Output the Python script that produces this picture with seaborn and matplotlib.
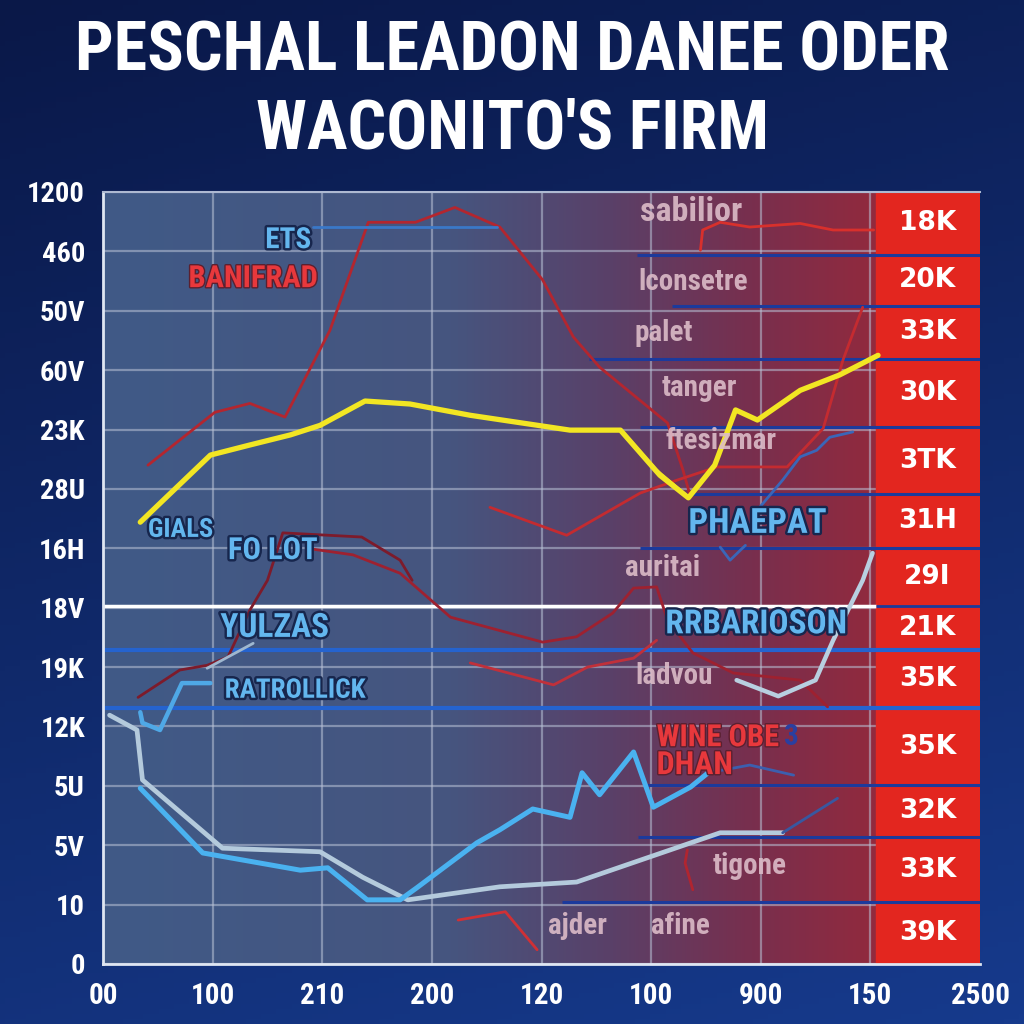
import numpy as np
import pandas as pd
import matplotlib
matplotlib.use("Agg")
import matplotlib.pyplot as plt
import matplotlib.patheffects as pe
from matplotlib.colors import LinearSegmentedColormap
import seaborn as sns

# ---------------- data ----------------
title_lines = ["PESCHAL LEADON DANEE ODER", "WACONITO'S FIRM"]
x_ticklabels = ["00", "100", "210", "200", "120", "100", "900", "150", "2500"]
y_ticklabels = ["0", "10", "5V", "5U", "12K", "19K", "18V", "16H", "28U", "23K", "60V", "50V", "460", "1200"]

# red value column on the right (top to bottom) and its cell edges
side_labels = ["18K", "20K", "33K", "30K", "3TK", "31H", "29I", "21K", "35K", "35K", "32K", "33K", "39K"]
side_edges = [13.0, 11.94, 11.08, 10.19, 9.04, 7.91, 7.00, 6.03, 5.29, 4.31, 3.01, 2.14, 1.04, 0.0]

# series
yellow_x = [0.34, 0.98, 1.34, 1.71, 1.98, 2.39, 2.80, 3.35, 4.26, 4.72, 5.08, 5.34, 5.58, 5.77, 5.97, 6.36, 6.72, 7.07]
yellow_y = [7.44, 8.57, 8.74, 8.91, 9.07, 9.48, 9.43, 9.24, 8.99, 8.99, 8.23, 7.85, 8.40, 9.33, 9.16, 9.66, 9.92, 10.25]
yellow2_x = [4.72, 5.04, 5.31]
yellow2_y = [8.99, 8.32, 7.90]

red_top_x = [0.41, 1.02, 1.34, 1.66, 2.07, 2.42, 2.85, 3.21, 3.62, 4.01, 4.29, 4.53, 5.15, 5.29, 5.36]
red_top_y = [8.40, 9.29, 9.44, 9.21, 10.67, 12.49, 12.49, 12.74, 12.41, 11.52, 10.56, 10.05, 9.11, 8.32, 7.86]

ets_x = [1.92, 3.59]
ets_y = [12.41, 12.41]

red_right_x = [5.45, 5.47, 5.63, 5.90, 6.36, 6.66, 7.03]
red_right_y = [12.02, 12.36, 12.49, 12.41, 12.47, 12.36, 12.36]

red_mid_x = [3.53, 4.23, 4.90, 5.24, 5.60, 6.24, 6.57, 6.75, 6.93]
red_mid_y = [7.69, 7.22, 7.93, 8.15, 8.37, 8.37, 9.02, 10.17, 11.06]

blue_small_x = [5.99, 6.20, 6.36, 6.51, 6.63, 6.84]
blue_small_y = [7.69, 8.15, 8.54, 8.65, 8.87, 8.96]

blue_tick_x = [5.63, 5.72, 5.86]
blue_tick_y = [7.02, 6.80, 7.05]

darkred_x = [0.32, 0.70, 0.95, 1.14, 1.34, 1.50, 1.64, 2.36, 2.71, 2.82]
darkred_y = [4.49, 4.95, 5.03, 5.17, 5.96, 6.46, 7.26, 7.19, 6.80, 6.46]

red_long_x = [1.86, 2.28, 2.71, 3.17, 4.01, 4.32, 4.65, 4.84, 5.05, 5.15, 5.38, 5.75, 6.36, 6.61]
red_long_y = [7.00, 6.89, 6.58, 5.84, 5.42, 5.51, 5.91, 6.33, 6.35, 5.79, 5.24, 4.90, 4.78, 4.33]

red_ladvou_x = [3.35, 4.11, 4.42, 4.84, 5.05]
red_ladvou_y = [5.07, 4.70, 5.00, 5.15, 5.45]

red_ajder_x = [3.24, 3.67, 3.96]
red_ajder_y = [0.74, 0.88, 0.24]

red_tigone_x = [5.33, 5.31, 5.38]
red_tigone_y = [1.92, 1.70, 1.25]

ratroll_x = [0.34, 0.36, 0.52, 0.72, 0.98]
ratroll_y = [4.24, 4.06, 3.94, 4.73, 4.73]

grey_short_x = [0.95, 1.37]
grey_short_y = [4.98, 5.40]

grey_long_x = [0.06, 0.31, 0.36, 1.09, 1.98, 2.37, 2.78, 3.62, 4.32, 5.63, 6.20]
grey_long_y = [4.19, 3.94, 3.10, 1.95, 1.89, 1.46, 1.08, 1.30, 1.38, 2.21, 2.21]
grey_tail_x = [6.20, 6.70]
grey_tail_y = [2.21, 2.79]

bright_x = [0.34, 0.91, 1.37, 1.80, 2.05, 2.41, 2.71, 2.86, 3.41, 3.62, 3.92, 4.26, 4.37, 4.53, 4.84, 5.02, 5.36, 5.52]
bright_y = [2.96, 1.87, 1.72, 1.58, 1.62, 1.08, 1.08, 1.28, 2.04, 2.26, 2.61, 2.47, 3.22, 2.85, 3.57, 2.64, 2.98, 3.22]
bright_tail_x = [5.52, 5.90, 6.30]
bright_tail_y = [3.22, 3.35, 3.18]

grey_right_x = [5.78, 6.16, 6.50, 6.66, 6.93, 7.02]
grey_right_y = [4.78, 4.51, 4.78, 5.45, 6.46, 6.92]

# horizontal rules
navy_rule_y = [11.94, 11.08, 10.19, 9.04, 7.91, 7.00, 3.01, 2.14, 1.04]
navy_rule_x0 = [4.87, 5.19, 4.43, 4.90, 5.36, 4.90, 4.96, 4.88, 4.19]
blue_rule_y = [5.29, 4.31]
white_rule_y = 6.03

# word labels inside the plot
pale_words = ["sabilior", "lconsetre", "palet", "tanger", "ftesizmar", "auritai", "ladvou", "tigone", "ajder", "afine"]
pale_x = [4.90, 4.88, 4.85, 5.10, 5.13, 4.76, 4.86, 5.56, 4.06, 5.00]
pale_y = [12.66, 11.48, 10.62, 9.70, 8.80, 6.67, 4.85, 1.65, 0.64, 0.64]
pale_size = [24.5, 21, 21, 21, 21, 21, 21, 21, 21, 21]

blue_words = ["ETS", "GIALS", "FO LOT", "YULZAS", "RATROLLICK", "PHAEPAT", "RRBARIOSON"]
blue_x = [1.48, 0.41, 1.14, 1.07, 1.11, 5.34, 5.13]
blue_y = [12.19, 7.31, 6.97, 5.66, 4.61, 7.42, 5.72]
blue_size = [21, 19, 22, 24, 19.5, 25, 24]

red_words = ["BANIFRAD", "WINE OBE", "DHAN"]
red_x = [0.78, 5.05, 5.05]
red_y = [11.55, 3.82, 3.35]
red_size = [22, 22, 23]

# ---------------- style ----------------
sns.set_theme(style="white")
cond = ["Roboto Condensed", "DejaVu Sans"]
plt.rcParams["font.family"] = cond

fig = plt.figure(figsize=(10.24, 10.24), dpi=100)

# navy figure background
bg = fig.add_axes([0, 0, 1, 1], zorder=-10)
gy, gx = np.mgrid[0:1:200j, 0:1:200j]
bg.imshow(0.65 * gy + 0.2 * gx, cmap=LinearSegmentedColormap.from_list("bg", ["#0a1848", "#163a8c"]),
          extent=[0, 1, 0, 1], aspect="auto", origin="upper")
bg.axis("off")

ax = fig.add_axes([103 / 1024, 60 / 1024, 877 / 1024, 772 / 1024])
ax.set_xlim(0, 8)
ax.set_ylim(0, 13)

# blue -> maroon plot area
area = LinearSegmentedColormap.from_list(
    "area", [(0, "#405a87"), (0.45, "#46557f"), (0.66, "#5a4068"), (0.84, "#782f4e"), (1, "#912a3e")])
ax.imshow(np.linspace(0, 1, 300)[None, :], cmap=area, extent=[0, 7.05, 0, 13], aspect="auto", zorder=0)
ax.axvspan(7.05, 8, color="#e3261f", zorder=1)

ax.set_xticks(range(9))
ax.set_yticks(range(14))
ax.grid(True, color="#b9c2d6", alpha=0.55, lw=1.6)
ax.set_axisbelow(True)
ax.spines["right"].set_visible(False)
ax.spines["top"].set_color("#aeb9d2")
ax.spines["top"].set_linewidth(1.5)
for s in ["left", "bottom"]:
    ax.spines[s].set_color("#dfe6f2")
    ax.spines[s].set_linewidth(2)
ax.set_xticklabels(x_ticklabels, color="white", fontsize=21, fontweight="bold")
ax.set_yticklabels(y_ticklabels, color="white", fontsize=20.5, fontweight="bold")
ax.tick_params(axis="x", length=0, pad=13)
ax.tick_params(axis="y", length=0, pad=13)

# rules
ax.hlines(navy_rule_y, navy_rule_x0, 8, color="#1c3a9c", lw=2.2, zorder=2)
ax.hlines(blue_rule_y, 0, 8, color="#2563cf", lw=3, zorder=2)
ax.hlines(white_rule_y, 0, 7.05, color="white", lw=2.5, zorder=2)
ax.hlines(white_rule_y, 7.05, 8, color="#1c3a9c", lw=2, zorder=2)

# series lines
series = [
    (red_top_x, red_top_y, "#b3262f", 2),
    (ets_x, ets_y, "#3a78c8", 2),
    (red_right_x, red_right_y, "#d8302c", 2),
    (red_mid_x, red_mid_y, "#c42b30", 2),
    (blue_small_x, blue_small_y, "#3a66b8", 2),
    (blue_tick_x, blue_tick_y, "#3a66b8", 2),
    (darkred_x, darkred_y, "#7d1b2b", 2),
    (red_long_x, red_long_y, "#9e2130", 2),
    (red_ladvou_x, red_ladvou_y, "#c0303a", 2),
    (red_ajder_x, red_ajder_y, "#d03035", 2),
    (red_tigone_x, red_tigone_y, "#b02530", 2),
    (ratroll_x, ratroll_y, "#4fa8e6", 3.2),
    (grey_short_x, grey_short_y, "#9fb7cf", 2),
    (grey_long_x, grey_long_y, "#b4cadc", 3.4),
    (grey_tail_x, grey_tail_y, "#3858a0", 2),
    (bright_x, bright_y, "#4ab2f0", 3.6),
    (bright_tail_x, bright_tail_y, "#3c5fae", 2),
    (grey_right_x, grey_right_y, "#b8cfe0", 3.2),
    (yellow2_x, yellow2_y, "#f2e623", 2.8),
    (yellow_x, yellow_y, "#f2e623", 3.8),
]
for xs, ys, c, lw in series:
    df = pd.DataFrame({"x": xs, "y": ys})
    sns.lineplot(data=df, x="x", y="y", sort=False, estimator=None, color=c, lw=lw, ax=ax, zorder=3)
ax.set_xlabel("")
ax.set_ylabel("")

# words
for w, x, y, fs in zip(pale_words, pale_x, pale_y, pale_size):
    ax.text(x, y, w, color="#dcbcc8", fontsize=fs, fontweight="semibold", va="center", ha="left",
            alpha=0.9, zorder=4)
shadow = [pe.withStroke(linewidth=3.5, foreground="#17264d")]
for w, x, y, fs in zip(blue_words, blue_x, blue_y, blue_size):
    ax.text(x, y, w, color="#63b6ee", fontsize=fs, fontweight="bold", va="center", ha="left",
            path_effects=shadow, zorder=5)
red_texts = []
for w, x, y, fs in zip(red_words, red_x, red_y, red_size):
    red_texts.append(ax.text(x, y, w, color="#e8383c", fontsize=fs, fontweight="bold", va="center", ha="left",
                             path_effects=[pe.withStroke(linewidth=2, foreground="#5a2030")], zorder=5))
ax.annotate("3", xy=(1, 0.5), xycoords=red_texts[1], xytext=(4, 0), textcoords="offset points",
            color="#2a3fa0", fontsize=21, fontweight="bold", va="center", ha="left", zorder=5)

# red column values
for i, lab in enumerate(side_labels):
    mid = (side_edges[i] + side_edges[i + 1]) / 2
    ax.text(7.52, mid, lab, color="white", fontsize=19, fontweight="bold", ha="center", va="center",
            family="DejaVu Sans", zorder=5)

title_font = ["Roboto Condensed", "DejaVu Sans"]
fig.text(0.5, 1 - 52 / 1024, title_lines[0], color="white", fontsize=49, fontweight="heavy",
         ha="center", va="center", family=title_font)
fig.text(0.5, 1 - 130 / 1024, title_lines[1], color="white", fontsize=49, fontweight="heavy",
         ha="center", va="center", family=title_font)

fig.savefig("out.png", dpi=100)
